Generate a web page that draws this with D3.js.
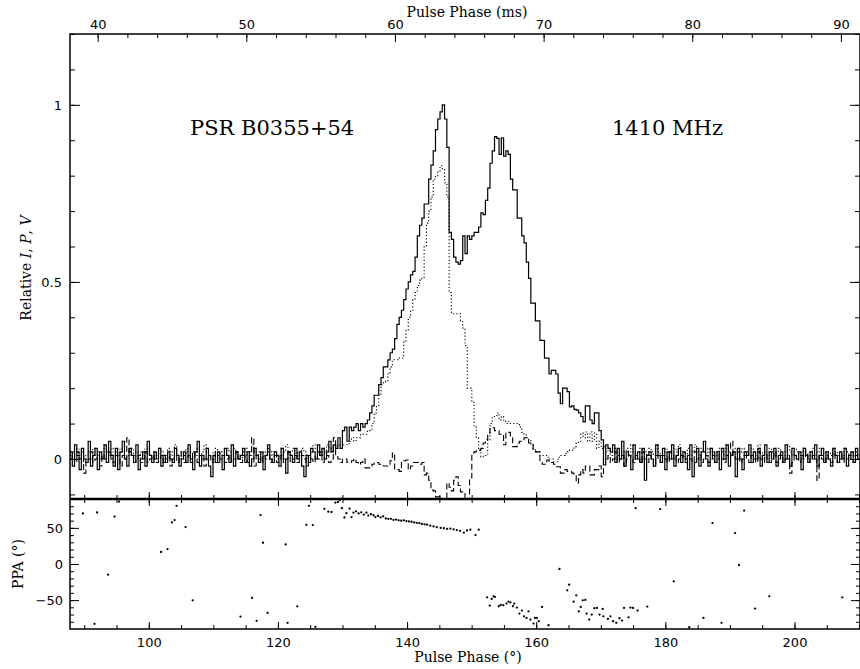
<!DOCTYPE html>
<html>
<head>
<meta charset="utf-8">
<script src="https://cdn.jsdelivr.net/npm/d3@7"></script>
<style>
  body { margin: 0; background: #fff; }
  svg text { fill: #000; }
  .num { font-family: "DejaVu Sans", sans-serif; font-size: 13px; }
  .lab { font-family: "DejaVu Serif", serif; font-size: 14px; }
  .big { font-family: "DejaVu Serif", serif; font-size: 21px; }
</style>
</head>
<body>
<div id="chart"></div>
<script>
// profile bins: 1024 bins per turn, first bin at 87.8 deg
const binStart = 87.8;
const binWidth = 360 / 1024;
const periodMs = 156.38;

// total intensity I (percent of peak)
const totalI = [
  2,-2,4,1,-3,3,0,-1,5,-2,
  1,3,-3,2,0,4,-1,5,1,-2,
  3,-3,2,5,0,-2,3,1,-1,4,
  -3,0,2,-2,5,1,-1,2,0,3,
  -2,1,-1,2,0,-1,3,1,-2,0,
  2,-1,4,0,-3,2,5,-2,1,0,
  3,-2,-5,1,-1,2,0,-3,3,1,
  -1,4,-2,2,0,1,3,-1,2,-2,
  0,3,1,-1,2,-3,1,4,0,-1,
  2,1,-2,3,0,-4,2,1,-1,3,
  0,2,-2,-5,1,-1,3,2,0,4,
  1,3,0,2,5,2,4,3,6,3,
  8,9,5,9,8,9,10,8,10,9,
  10,11,13,15,18,18,21,23,26,26,
  28,30,31,34,38,40,42,45,48,50,
  52,53,57,63,66,68,72,72,79,83,
  87,93,96,98,100,96,88,64,62,57,
  55.6,55,56,63,58,63,62,63,64,64,
  65.5,69.5,69,73,76.5,83.5,87,91,90.5,86,
  90.7,85.5,87,86,79,76,76,68,68,63,
  61,55.6,51,44,44,39,39,33.5,33.5,28.5,
  28.5,24,25,25,24,18.6,15.6,20,20,19,
  14.7,15,14,13.8,13,12,10.5,15,15,11,
  10,13,13,8,5.4,-1.7,4,3,2,4,
  -1,3,0,5,-2,2,1,-3,4,0,
  2,-1,3,-6,1,2,0,-2,4,1,
  -1,3,-3,2,0,4,-2,1,3,-1,
  2,0,-3,4,-5,-1,3,-2,2,5,
  0,-2,3,1,-1,2,-3,3,0,4,
  -2,1,2,-5,3,0,-3,2,1,4,
  -1,2,0,3,-2,1,4,-1,2,0,
  3,-2,1,2,-1,4,0,-2,3,1,
  0,2,-3,3,1,-1,2,0,4,-2,
  1,3,-1,2,0,-2,3,1,-1,2,
  0,3,-2,1,2,-1,3,0
];

// linear polarisation (dotted)
const linearL = [
  1,2,0,3,1,2,-1,1,2,0,
  3,1,2,0,1,4,2,1,3,0,
  2,1,3,2,0,1,2,3,1,2,
  0,2,1,3,2,1,0,2,1,3,
  2,0,1,3,1,2,4,1,0,2,
  1,3,2,0,2,1,3,1,2,4,
  2,1,0,2,3,1,2,0,1,3,
  2,1,3,2,1,0,2,3,1,2,
  4,3,1,2,0,2,1,3,2,1,
  2,0,1,3,2,4,1,2,3,1,
  2,1,3,2,0,1,2,4,3,2,
  1,3,2,4,3,2,4,3,4,3,
  4,4,4,5,6,5,6,6,7,7,
  7,8,8,10,13,15,18,21,21.5,22,
  24,26,28,28,28,28.5,28.5,33,36.5,40,
  42,45,47,49,50.5,51,60,66.6,70,74,
  79,80,81,82.8,82,78,74,47,41,41,
  41,41,39,37,32,20,20,16,9,6,
  2.5,0.6,1,1,5.4,10,12,12,13,11,
  12,11,10,10.5,10,10,10,10,9,7.5,
  7,6,5.4,4,3,2,2,1,1,1,
  0.5,0,0,-0.8,-0.8,0.5,1,1,1.5,2,
  2.5,2.5,3.5,4.5,5,7.3,6,7.6,5,7.6,
  5,7.3,3,5,3,3.5,2,3,1,2,
  3,1,2,0,2,3,1,4,2,1,
  2,3,0,2,1,3,2,1,4,2,
  1,2,3,0,2,1,3,2,4,1,
  2,0,3,1,2,4,2,1,3,2,
  1,3,2,0,2,1,3,2,1,4,
  2,1,3,2,0,2,3,1,2,1,
  3,2,1,4,2,0,2,1,3,2,
  1,2,3,1,0,2,4,2,1,3,
  2,1,2,3,1,0,2,3,1,2,
  3,1,2,0,2,1,3,2,1,2,
  1,3,2,0,2,1,2,1
];

// circular polarisation V (dashed)
const circularV = [
  0,1,-1,2,0,1,-4,-1,0,2,
  -1,0,1,-2,1,0,-1,2,0,-1,
  1,0,-2,1,0,6,2,1,-1,0,
  1,-1,0,2,-1,0,1,0,-1,0,
  1,-1,0,1,-2,0,1,-1,0,2,
  -1,0,1,-1,2,0,-1,1,0,-2,
  0,1,-1,0,2,-1,0,1,-1,0,
  1,-1,0,2,0,-1,1,0,-1,1,
  6,-2,1,0,-1,1,0,2,-1,0,
  1,-1,0,1,-1,0,2,-1,0,1,
  -1,0,1,0,-2,1,0,-1,1,0,
  2,-1,0,1,-1,0,6,1,0,-1,
  0,0,-1,-1,-0.5,0,-1,-1.5,-1,0,
  -2.5,-2.5,-2,-1.5,-1,-1,-1.5,-1.5,-2,-2,
  -2,-0.5,1.7,-3,-3,-3.5,-0.5,-0.5,-0.3,-3,
  -2,-1,-1,-1,-1.5,-1,-4.5,-4,-6,-8.8,
  -9,-10.7,-10.7,-13,-13,-13,-6.8,-8,-9,-6,
  -5,-7.5,-9.3,-9.3,-13,-13,-5.3,1.7,2,2.5,
  2.5,3,4.5,5.5,7.3,8.8,8.8,8,8,7,
  7,4,7.5,7.5,6,3.5,3.5,4.5,5,5,
  6,6,4.5,4,2.5,2,2,-0.8,-1.5,-1.5,
  -0.3,-1,-1,-1.5,-2.2,-2.2,-4,-4,-3,-3.5,
  -3.5,-4,-4.5,-6.8,-4.5,-3,-4,-2,-2,-4.5,
  -4.5,-3,-3,-2,-5,0,0,1,-1,0,
  2,-1,0,1,-2,0,1,0,-1,1,
  0,-1,2,0,-1,1,0,-2,1,0,
  -1,1,0,-1,2,0,1,-1,0,1,
  0,-1,1,0,-1,2,0,1,-1,0,
  1,-1,0,2,-1,0,1,0,-1,1,
  0,5,1,0,2,-1,0,1,0,-1,
  1,0,-1,2,0,-1,1,0,-1,0,
  2,-1,0,1,-1,0,1,-4,-1,1,
  0,-1,1,0,2,-1,0,1,0,-6,
  1,0,-1,1,0,-1,2,0,-1,0,
  1,-1,0,1,0,-1,1,0
];

// position angle points (deg phase, deg PPA)
const ppaPhase = [
  89.8,91.6,92.0,93.7,94.7,95.4,101.9,102.9,103.6,104.0,104.3,105.7,106.8,
  114.2,116.0,116.7,117.3,117.7,118.4,121.2,121.5,123.0,124.4,124.8,125.4,125.8,
  127.2,127.8,128.3,128.9,129.3,129.6,129.9,130.3,130.6,131.1,131.4,
  131.7,132.1,132.5,132.9,133.3,133.7,134.0,134.4,134.8,135.1,135.5,135.9,136.3,
  136.7,137.1,137.5,137.9,138.3,138.7,139.1,139.5,139.9,140.3,140.7,141.1,141.5,
  141.9,142.3,142.7,143.1,143.6,144.1,144.6,145.2,145.7,146.2,146.7,147.2,147.7,
  148.2,148.8,149.3,149.8,150.6,151.1,
  152.4,152.8,153.1,153.4,153.6,154.2,154.5,154.9,155.4,155.7,156.0,156.4,156.6,
  157.0,157.4,157.8,158.1,158.5,158.8,159.1,159.6,159.8,160.1,160.4,160.9,161.9,
  163.6,164.8,165.1,165.8,166.2,166.6,166.9,167.2,167.6,167.8,168.2,168.6,169.0,
  169.4,169.8,170.3,170.4,171.1,171.5,171.9,172.4,172.9,173.3,173.6,174.3,174.6,
  175.0,175.7,177.2,
  175.4,179.2,181.3,183.7,185.9,187.3,188.7,190.8,191.4,192.2,193.9,196.1,207.4
];
const ppaAngle = [
  69.9,-82.9,71.3,-14.8,65.7,86.5,16.6,20.7,57.5,60.8,80.5,51.1,-50.3,
  -72.8,-47.0,-78.7,67.7,29.4,-67.7,27.1,-81.5,-58.6,54.3,80.5,53.9,-87.0,
  76.4,72.5,72.0,85.0,86.0,88.5,77.3,64.4,70.4,76.8,65.0,
  71.0,73.0,70.0,71.5,68.5,71.0,67.0,69.0,67.5,65.0,66.5,64.5,66.0,
  63.0,62.5,62.5,61.0,61.5,60.5,60.0,60.5,59.5,59.0,58.5,57.5,57.0,
  56.5,55.5,55.0,54.5,53.0,52.0,51.0,50.0,49.5,48.5,49.0,48.0,47.0,
  46.0,43.5,46.5,47.5,40.0,47.5,
  -46.1,-57.6,-48.3,-44.8,-45.6,-58.5,-56.6,-57.1,-54.8,-52.0,-53.0,-58.5,-54.8,
  -60.4,-68.6,-64.5,-72.4,-74.6,-65.5,-76.9,-82.5,-74.6,-74.6,-79.3,-59.4,-84.8,
  -6.9,-36.5,-28.6,-52.1,-43.4,-65.5,-59.4,-50.3,-49.7,-68.6,-76.9,-70.0,-61.3,
  -60.8,-70.0,-62.2,-72.4,-76.0,-72.4,-79.3,-81.5,-75.1,-78.3,-60.8,-73.8,-60.4,
  -60.8,-64.5,-59.0,
  77.3,76.0,-24.0,-87.6,-74.6,56.6,-81.5,42.8,-1.4,74.0,-61.7,-44.8,-46.1
];

// tick values
const degMajor = [100, 120, 140, 160, 180, 200];
const msMajor = [40, 50, 60, 70, 80, 90];
const intMajor = [0, 0.5, 1];
const ppaMajor = [-50, 0, 50];

const width = 860, height = 669;
const pL = 70, pR = 860, pT = 34, pM = 499, pB = 629;
const phaseEnd = binStart + totalI.length * binWidth;

const x = d3.scaleLinear().domain([binStart, phaseEnd]).range([pL, pR]);
const xms = d3.scaleLinear().domain([binStart * periodMs / 360, phaseEnd * periodMs / 360]).range([pL, pR]);
const yI = d3.scaleLinear().domain([-0.113, 1.2]).range([pM, pT]);
const yP = d3.scaleLinear().domain([-90, 90]).range([pB, pM]);

const svg = d3.select("#chart").append("svg")
  .attr("width", width).attr("height", height);

svg.append("defs").append("clipPath").attr("id", "topclip")
  .append("rect").attr("x", pL).attr("y", pT).attr("width", pR - pL).attr("height", pM - pT);

// helper: tick-only axis
function ticks(axis, g, vals, size) {
  g.call(axis.tickValues(vals).tickSize(size).tickFormat(""));
  g.select(".domain").remove();
  g.selectAll(".tick line").attr("stroke", "#000").attr("stroke-width", 1);
}
function labels(axis, g, vals, pad, fmt) {
  g.call(axis.tickValues(vals).tickSize(0).tickPadding(pad).tickFormat(fmt || d3.format("")));
  g.select(".domain").remove();
  g.selectAll("text").attr("class", "num").attr("font-family", null).attr("font-size", null);
}

const degMinor = d3.range(90, 211, 5);
const msMinor = d3.range(40, 92, 2);
const intMinor = d3.range(-0.1, 1.21, 0.1).map(d => +d.toFixed(1));
const ppaMinor = d3.range(-80, 81, 10);

// top axis in ms
ticks(d3.axisBottom(xms), svg.append("g").attr("transform", `translate(0,${pT})`), msMinor, 4);
ticks(d3.axisBottom(xms), svg.append("g").attr("transform", `translate(0,${pT})`), msMajor, 8);
labels(d3.axisTop(xms), svg.append("g").attr("transform", `translate(0,${pT})`), msMajor, 5);

// top panel bottom edge
ticks(d3.axisTop(x), svg.append("g").attr("transform", `translate(0,${pM})`), degMinor, 4);
ticks(d3.axisTop(x), svg.append("g").attr("transform", `translate(0,${pM})`), degMajor, 7);
// bottom panel top edge
ticks(d3.axisBottom(x), svg.append("g").attr("transform", `translate(0,${pM})`), degMinor, 4);
ticks(d3.axisBottom(x), svg.append("g").attr("transform", `translate(0,${pM})`), degMajor, 7);
// bottom panel bottom edge
ticks(d3.axisTop(x), svg.append("g").attr("transform", `translate(0,${pB})`), degMinor, 4);
ticks(d3.axisTop(x), svg.append("g").attr("transform", `translate(0,${pB})`), degMajor, 7);
labels(d3.axisBottom(x), svg.append("g").attr("transform", `translate(0,${pB})`), degMajor, 9);

// left/right of top panel
ticks(d3.axisRight(yI), svg.append("g").attr("transform", `translate(${pL},0)`), intMinor, 5);
ticks(d3.axisRight(yI), svg.append("g").attr("transform", `translate(${pL},0)`), intMajor, 10);
ticks(d3.axisLeft(yI), svg.append("g").attr("transform", `translate(${pR},0)`), intMinor, 5);
ticks(d3.axisLeft(yI), svg.append("g").attr("transform", `translate(${pR},0)`), intMajor, 10);
labels(d3.axisLeft(yI), svg.append("g").attr("transform", `translate(${pL},0)`), intMajor, 8, d3.format(""));

// left/right of bottom panel
ticks(d3.axisRight(yP), svg.append("g").attr("transform", `translate(${pL},0)`), ppaMinor, 4);
ticks(d3.axisRight(yP), svg.append("g").attr("transform", `translate(${pL},0)`), ppaMajor, 9);
ticks(d3.axisLeft(yP), svg.append("g").attr("transform", `translate(${pR},0)`), ppaMinor, 4);
ticks(d3.axisLeft(yP), svg.append("g").attr("transform", `translate(${pR},0)`), ppaMajor, 9);
labels(d3.axisLeft(yP), svg.append("g").attr("transform", `translate(${pL},0)`), ppaMajor, 7, d => d < 0 ? "\u2212" + Math.abs(d) : d);

// frame
svg.append("rect").attr("x", pL).attr("y", pT).attr("width", pR - pL).attr("height", pB - pT)
  .attr("fill", "none").attr("stroke", "#000").attr("stroke-width", 1.5);
svg.append("line").attr("x1", pL).attr("x2", pR).attr("y1", pM).attr("y2", pM)
  .attr("stroke", "#000").attr("stroke-width", 2.4);

// profiles
function profile(vals) {
  const pts = vals.map((v, i) => [binStart + i * binWidth, v / 100]);
  pts.push([phaseEnd, vals[vals.length - 1] / 100]);
  return pts;
}
const line = d3.line().x(d => x(d[0])).y(d => yI(d[1])).curve(d3.curveStepAfter);
const prof = svg.append("g").attr("clip-path", "url(#topclip)");
prof.append("path").attr("d", line(profile(circularV)))
  .attr("fill", "none").attr("stroke", "#000").attr("stroke-width", 1.1).attr("stroke-dasharray", "6,3");
prof.append("path").attr("d", line(profile(linearL)))
  .attr("fill", "none").attr("stroke", "#000").attr("stroke-width", 1.1).attr("stroke-dasharray", "1.2,2.2");
prof.append("path").attr("d", line(profile(totalI)))
  .attr("fill", "none").attr("stroke", "#000").attr("stroke-width", 1.2);

// PPA points
svg.append("g").selectAll("circle").data(ppaPhase).join("circle")
  .attr("cx", d => x(d)).attr("cy", (d, i) => yP(ppaAngle[i])).attr("r", 1.15).attr("fill", "#000");

// labels
svg.append("text").attr("class", "lab").attr("x", 467).attr("y", 17).attr("text-anchor", "middle").text("Pulse Phase (ms)");
svg.append("text").attr("class", "lab").attr("x", 468).attr("y", 662).attr("text-anchor", "middle").text("Pulse Phase (\u00b0)");
const yl = svg.append("text").attr("class", "lab").attr("font-size", "15px")
  .attr("transform", "translate(31,268) rotate(-90)").attr("text-anchor", "middle");
yl.append("tspan").text("Relative ");
yl.append("tspan").attr("font-style", "italic").text("I");
yl.append("tspan").text(", ");
yl.append("tspan").attr("font-style", "italic").text("P");
yl.append("tspan").text(", ");
yl.append("tspan").attr("font-style", "italic").text("V");
svg.append("text").attr("class", "lab").attr("font-size", "15px")
  .attr("transform", "translate(23,564) rotate(-90)").attr("text-anchor", "middle").text("PPA (\u00b0)");
svg.append("text").attr("class", "big").attr("x", 190).attr("y", 135).text("PSR B0355+54");
svg.append("text").attr("class", "big").attr("x", 612).attr("y", 135).text("1410 MHz");
</script>
</body>
</html>
